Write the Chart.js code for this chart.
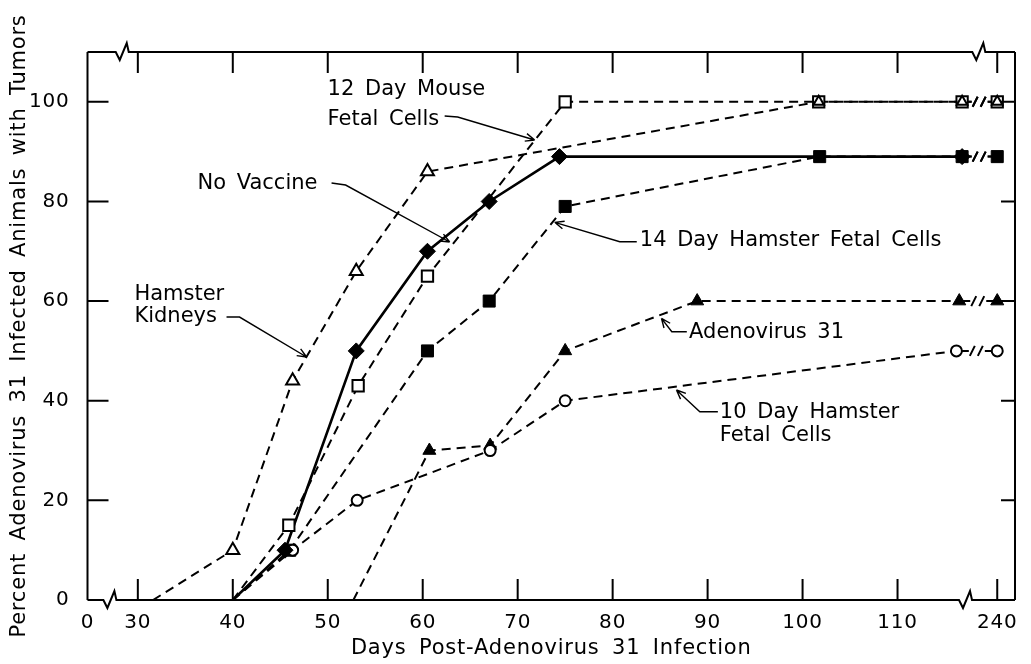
<!DOCTYPE html>
<html>
<head>
<meta charset="utf-8">
<script src="https://cdn.jsdelivr.net/npm/chart.js"></script>
<style>
    html, body { margin: 0; padding: 0; background: #fff; }
    #wrap { width: 1031px; height: 664px; }
</style>
</head>
<body>
<div id="wrap"><canvas id="tumorChart"></canvas></div>
<script>
    // x axis is broken twice: 0 sits left of 30, 240 sits right of 110
    const xTickDays = [0, 30, 40, 50, 60, 70, 80, 90, 100, 110, 240];
    const yTickPct = [0, 20, 40, 60, 80, 100];

    // Hamster Kidneys (open triangles)
    const kidneyDays = [31.6, 40, 46.3, 53, 60.5, 101.7, 116.8, 240];
    const kidneyPct = [0, 10, 44, 66, 86, 100, 100, 100];

    // 12 Day Mouse Fetal Cells (open squares)
    const mouseDays = [40, 45.9, 53.2, 60.5, 75, 101.7, 116.8, 240];
    const mousePct = [0, 15, 43, 65, 100, 100, 100, 100];

    // No Vaccine (filled diamonds, solid line)
    const noVacDays = [40, 45.5, 53, 60.5, 67, 74.4, 116.8, 240];
    const noVacPct = [0, 10, 50, 70, 80, 89, 89, 89];

    // 14 Day Hamster Fetal Cells (filled squares)
    const ham14Days = [40, 46, 60.5, 67, 75, 101.8, 116.8, 240];
    const ham14Pct = [0, 10, 50, 60, 79, 89, 89, 89];

    // Adenovirus 31 (filled triangles)
    const adenoDays = [52.7, 60.7, 67.1, 75, 88.9, 116.5, 240];
    const adenoPct = [0, 30, 31, 50, 60, 60, 60];

    // 10 Day Hamster Fetal Cells (open circles)
    const ham10Days = [40, 46.3, 53.1, 67.1, 75, 116.2, 240];
    const ham10Pct = [0, 10, 20, 30, 40, 50, 50];

    const FONT = 'DejaVu Sans';

    // where a day sits on the (broken) axis
    function axisPos(day) {
        if (day === 0) return 24.7;
        if (day === 240) return 120.5;
        return day;
    }

    function toPoints(days, pct) {
        return days.map((d, i) => ({ x: axisPos(d), y: pct[i] }));
    }

    function series(label, days, pct, style, fill, radius, solid) {
        const lastSeg = days.length - 2;
        return {
            label: label,
            data: toPoints(days, pct),
            borderColor: '#000',
            borderWidth: solid ? 2.6 : 2,
            borderDash: solid ? [] : [9, 6],
            pointStyle: style,
            pointBackgroundColor: fill,
            pointBorderColor: '#000',
            pointBorderWidth: fill === '#000' ? 1 : 2,
            pointRadius: radius,
            pointHoverRadius: radius,
            tension: 0,
            // the segment across the axis break is drawn by hand ("-//-")
            segment: {
                borderColor: ctx => ctx.p0DataIndex === lastSeg ? 'rgba(0,0,0,0)' : undefined
            }
        };
    }

    // text labels with arrows, in axis units
    const notes = [
        { lines: ['12 Day Mouse', 'Fetal Cells'], x: 49.98, y: [102.4, 96.5],
          arrow: [[62.31, 97.15], [63.68, 96.95], [71.79, 92.33]] },
        { lines: ['No Vaccine'], x: 36.28, y: [83.5],
          arrow: [[50.4, 83.7], [51.88, 83.3], [62.84, 71.86]] },
        { lines: ['Hamster', 'Kidneys'], x: 29.64, y: [61.4, 56.8],
          arrow: [[39.34, 56.8], [40.71, 56.8], [47.77, 48.78]] },
        { lines: ['14 Day Hamster Fetal Cells'], x: 82.86, y: [72.06],
          arrow: [[82.54, 71.92], [80.75, 71.92], [73.9, 75.81]] },
        { lines: ['Adenovirus 31'], x: 88.05, y: [53.69],
          arrow: [[87.81, 53.85], [86.23, 53.85], [85.14, 56.54]] },
        { lines: ['10 Day Hamster', 'Fetal Cells'], x: 91.29, y: [37.64, 32.92],
          arrow: [[91.08, 37.8], [89.18, 37.8], [86.72, 42.15]] }
    ];

    const framePlugin = {
        id: 'frame',
        beforeDraw(chart) {
            // the original lettering is widely spaced
            chart.ctx.letterSpacing = '0.8px';
            chart.ctx.wordSpacing = '5px';
        },
        beforeDatasetsDraw(chart) {
            const ctx = chart.ctx;
            ctx.letterSpacing = '0px';
            ctx.wordSpacing = '0px';
            ctx.save();
            ctx.strokeStyle = '#000';
            ctx.lineWidth = 2;
            ctx.setLineDash([]);
            chart.data.datasets.forEach((ds, di) => {
                const pts = chart.getDatasetMeta(di).data;
                const a = pts[pts.length - 2], b = pts[pts.length - 1];
                const m = (a.x + b.x) / 2, y = (a.y + b.y) / 2;
                ctx.beginPath();
                ctx.moveTo(a.x, a.y); ctx.lineTo(m - 8, y);
                ctx.moveTo(m + 8, y); ctx.lineTo(b.x, b.y);
                ctx.moveTo(m - 7, y + 5); ctx.lineTo(m - 2, y - 5);
                ctx.moveTo(m + 1, y + 5); ctx.lineTo(m + 6, y - 5);
                ctx.stroke();
            });
            ctx.restore();
        },
        afterDraw(chart) {
            const ctx = chart.ctx;
            const xs = chart.scales.x, ys = chart.scales.y;
            const a = chart.chartArea;
            ctx.save();
            ctx.letterSpacing = '0px';
            ctx.wordSpacing = '4px';
            ctx.strokeStyle = '#000';
            ctx.lineWidth = 2;
            ctx.setLineDash([]);

            // frame with zigzag breaks
            function hAxis(y, breaks) {
                ctx.moveTo(a.left, y);
                breaks.forEach(p => {
                    const bx = xs.getPixelForValue(p);
                    ctx.lineTo(bx - 5, y);
                    ctx.lineTo(bx - 1, y + 8);
                    ctx.lineTo(bx + 6, y - 9);
                    ctx.lineTo(bx + 8, y);
                });
                ctx.lineTo(a.right, y);
            }
            ctx.beginPath();
            hAxis(a.bottom, [26.9, 117.0]);
            hAxis(a.top, [28.2, 118.4]);
            ctx.moveTo(a.left, a.top); ctx.lineTo(a.left, a.bottom);
            ctx.moveTo(a.right, a.top); ctx.lineTo(a.right, a.bottom);

            // inward tick marks
            xTickDays.forEach(d => {
                if (d === 0) return;
                const px = xs.getPixelForValue(axisPos(d));
                ctx.moveTo(px, a.bottom); ctx.lineTo(px, a.bottom - 21);
                ctx.moveTo(px, a.top); ctx.lineTo(px, a.top + 21);
            });
            yTickPct.forEach(v => {
                if (v === 0) return;
                const py = ys.getPixelForValue(v);
                ctx.moveTo(a.left, py); ctx.lineTo(a.left + 21, py);
                ctx.moveTo(a.right, py); ctx.lineTo(a.right - 14, py);
            });
            ctx.stroke();

            // labels and arrows
            ctx.lineWidth = 1.4;
            ctx.fillStyle = '#000';
            ctx.font = '21px "' + FONT + '"';
            ctx.textAlign = 'left';
            ctx.textBaseline = 'middle';
            notes.forEach(n => {
                n.lines.forEach((t, i) => {
                    ctx.fillText(t, xs.getPixelForValue(n.x), ys.getPixelForValue(n.y[i]));
                });
                const p = n.arrow.map(q => [xs.getPixelForValue(q[0]), ys.getPixelForValue(q[1])]);
                ctx.beginPath();
                ctx.moveTo(p[0][0], p[0][1]);
                for (let i = 1; i < p.length; i++) ctx.lineTo(p[i][0], p[i][1]);
                const tip = p[p.length - 1], prev = p[p.length - 2];
                const ang = Math.atan2(tip[1] - prev[1], tip[0] - prev[0]);
                [-0.4, 0.4].forEach(da => {
                    ctx.moveTo(tip[0], tip[1]);
                    ctx.lineTo(tip[0] - 10 * Math.cos(ang + da), tip[1] - 10 * Math.sin(ang + da));
                });
                ctx.stroke();
            });
            ctx.restore();
        }
    };

    const kidneyR = kidneyDays.map((d, i) => i === 0 ? 0 : (d > 100 ? 6 : 7.5));
    const mouseR = mouseDays.map((d, i) => i === 0 ? 0 : 8);
    const noVacR = noVacDays.map((d, i) => (i === 0 || d === 240) ? 0 : 8);
    const ham14R = ham14Days.map((d, i) => i === 0 ? 0 : 8.5);
    const adenoR = adenoDays.map((d, i) => i === 0 ? 0 : 7.5);
    const ham10R = ham10Days.map((d, i) => i === 0 ? 0 : 5.5);

    new Chart(document.getElementById('tumorChart'), {
        type: 'line',
        data: {
            datasets: [
                series('Hamster Kidneys', kidneyDays, kidneyPct, 'triangle', '#fff', kidneyR, false),
                series('12 Day Mouse Fetal Cells', mouseDays, mousePct, 'rect', '#fff', mouseR, false),
                series('No Vaccine', noVacDays, noVacPct, 'rectRot', '#000', noVacR, true),
                series('10 Day Hamster Fetal Cells', ham10Days, ham10Pct, 'circle', '#fff', ham10R, false),
                series('Adenovirus 31', adenoDays, adenoPct, 'triangle', '#000', adenoR, false),
                series('14 Day Hamster Fetal Cells', ham14Days, ham14Pct, 'rect', '#000', ham14R, false)
            ]
        },
        options: {
            responsive: true,
            maintainAspectRatio: false,
            animation: false,
            layout: { padding: { top: 52, right: 16, bottom: 0, left: 0 } },
            plugins: {
                legend: { display: false },
                tooltip: { enabled: false }
            },
            scales: {
                x: {
                    type: 'linear',
                    min: 24.7,
                    max: 122.37,
                    grid: { display: false },
                    border: { display: false },
                    afterBuildTicks: s => { s.ticks = xTickDays.map(d => ({ value: axisPos(d) })); },
                    afterFit: s => { s.height = 64; },
                    ticks: {
                        autoSkip: false,
                        maxRotation: 0,
                        padding: 3,
                        color: '#000',
                        font: { family: FONT, size: 20 },
                        callback: (v, i) => String(xTickDays[i])
                    },
                    title: {
                        display: true,
                        text: 'Days Post-Adenovirus 31 Infection',
                        color: '#000',
                        font: { family: FONT, size: 21 },
                        padding: { top: 0, bottom: 3 }
                    }
                },
                y: {
                    min: 0,
                    max: 110,
                    grid: { display: false },
                    border: { display: false },
                    afterBuildTicks: s => { s.ticks = yTickPct.map(v => ({ value: v })); },
                    afterFit: s => { s.width = 87.5; },
                    ticks: {
                        padding: 10,
                        color: '#000',
                        font: { family: FONT, size: 20 }
                    },
                    title: {
                        display: true,
                        text: 'Percent Adenovirus 31 Infected Animals with Tumors',
                        color: '#000',
                        font: { family: FONT, size: 21 },
                        padding: { top: 7, bottom: 0 }
                    }
                }
            }
        },
        plugins: [framePlugin]
    });
</script>
</body>
</html>
